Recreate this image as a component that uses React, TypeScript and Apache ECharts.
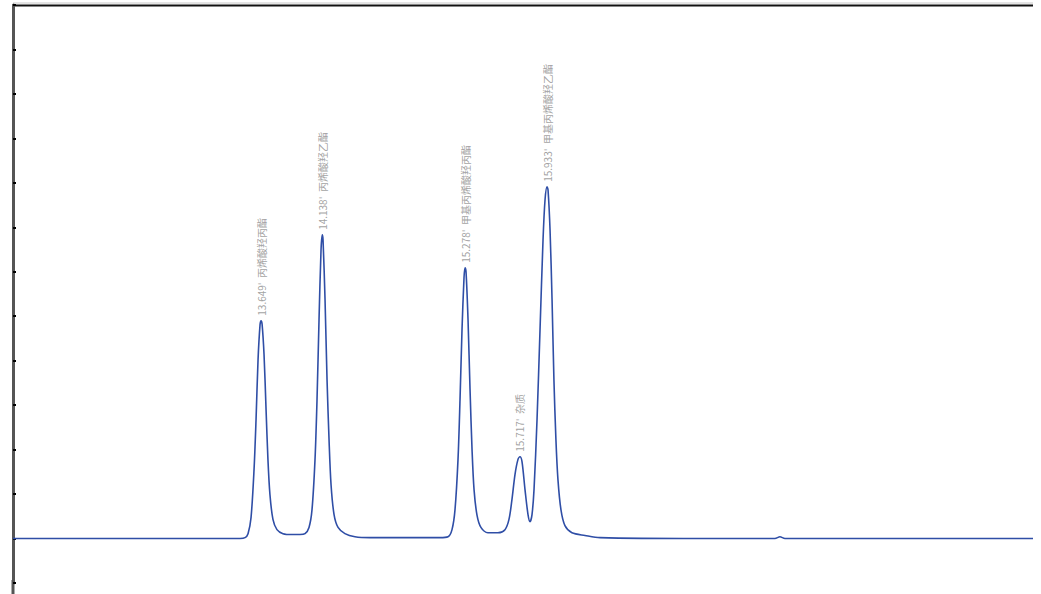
import React, { useEffect, useRef } from "react";
import * as echarts from "echarts";

// Retention time (min) and detector response
const times = [
  11.668, 13.481, 13.521, 13.545, 13.569, 13.593, 13.609, 13.625, 13.641, 13.649, 13.657, 13.673, 13.689, 13.704,
  13.72, 13.744, 13.776, 13.824, 13.896, 13.96, 14.0, 14.032, 14.056, 14.08, 14.096, 14.112, 14.128, 14.138,
  14.144, 14.16, 14.176, 14.192, 14.208, 14.232, 14.264, 14.319, 14.399, 14.519, 15.078, 15.142, 15.174, 15.198,
  15.222, 15.238, 15.254, 15.27, 15.278, 15.286, 15.302, 15.318, 15.334, 15.35, 15.374, 15.405, 15.461, 15.541,
  15.597, 15.629, 15.653, 15.677, 15.701, 15.717, 15.733, 15.757, 15.781, 15.797, 15.813, 15.829, 15.853, 15.877,
  15.901, 15.917, 15.933, 15.941, 15.957, 15.973, 15.988, 16.004, 16.02, 16.044, 16.076, 16.132, 16.236, 16.356,
  17.154, 17.753, 17.793, 17.833, 19.814,
];
const signal = [
  0, 0, 0.02, 0.11, 0.47, 1.55, 2.67, 4.02, 4.81, 4.9, 4.83, 4.13, 2.9, 1.78,
  0.99, 0.43, 0.2, 0.11, 0.09, 0.09, 0.11, 0.25, 0.65, 1.78, 3.12, 4.92, 6.49, 6.83,
  6.72, 5.37, 3.57, 2.22, 1.21, 0.54, 0.25, 0.11, 0.04, 0.02, 0.02, 0.04, 0.2, 0.65,
  1.78, 3.12, 4.7, 5.87, 6.09, 6.0, 4.92, 3.35, 2.0, 1.1, 0.52, 0.25, 0.13, 0.13,
  0.2, 0.43, 0.88, 1.44, 1.78, 1.84, 1.73, 1.1, 0.54, 0.38, 0.54, 1.1, 2.67, 4.7,
  6.72, 7.62, 7.91, 7.84, 6.94, 5.37, 3.57, 2.22, 1.33, 0.65, 0.29, 0.13, 0.07, 0.02,
  0, 0, 0.04, 0, 0,
];

// Peak annotations
const peakTimes = [13.649, 14.138, 15.278, 15.717, 15.933];
const peakHeights = [4.9, 6.83, 6.09, 1.84, 7.91];
const peakNames = [
  "13.649'  丙烯酸羟丙酯",
  "14.138'  丙烯酸羟乙酯",
  "15.278'  甲基丙烯酸羟丙酯",
  "15.717'  杂质",
  "15.933'  甲基丙烯酸羟乙酯",
];

const X_MIN = 11.668;
const X_MAX = 19.814;

export default function App() {
  const ref = useRef<HTMLDivElement>(null);
  useEffect(() => {
    if (!ref.current) return;
    const chart = echarts.init(ref.current, undefined, { renderer: "svg" });
    const lineData = times.map((t, i) => [t, signal[i]]);
    const peakData = peakTimes.map((t, i) => ({ value: [t, peakHeights[i]], name: peakNames[i] }));
    chart.setOption({
      animation: false,
      backgroundColor: "#ffffff",
      grid: { left: 13, right: 8, top: 5, bottom: 11 },
      xAxis: {
        type: "value",
        min: X_MIN,
        max: X_MAX,
        show: false,
      },
      yAxis: {
        type: "value",
        min: -1,
        max: 12,
        interval: 1,
        axisLine: { show: true, lineStyle: { color: "#555555", width: 3 } },
        axisTick: { show: true, inside: true, length: 3, lineStyle: { color: "#000000", width: 2 } },
        axisLabel: { show: false },
        splitLine: { show: false },
      },
      graphic: [
        { type: "line", shape: { x1: 13, y1: 3, x2: 1033, y2: 3 }, style: { stroke: "#c8c8c8", lineWidth: 1 }, silent: true },
        { type: "line", shape: { x1: 12, y1: 5.5, x2: 1033, y2: 5.5 }, style: { stroke: "#111111", lineWidth: 2 }, silent: true },
        { type: "line", shape: { x1: 13, y1: 580, x2: 13, y2: 594 }, style: { stroke: "#555555", lineWidth: 3 }, silent: true },
      ],
      series: [
        {
          type: "line",
          data: lineData,
          showSymbol: false,
          symbol: "none",
          smooth: 0.3,
          lineStyle: { color: "#2f4ea6", width: 1.6 },
          z: 3,
        },
        {
          type: "scatter",
          data: peakData,
          symbolSize: 0,
          label: {
            show: true,
            position: "top",
            distance: 5,
            rotate: 90,
            align: "left",
            verticalAlign: "middle",
            formatter: (p: any) => p.name,
            fontSize: 10,
            color: "#8a8a8a",
            fontFamily: "Noto Sans CJK SC, sans-serif",
          },
          z: 4,
        },
      ],
    });
    return () => chart.dispose();
  }, []);
  return (
    <div
      ref={ref}
      style={{ position: "fixed", left: 0, top: 0, width: 1041, height: 594, background: "#fff" }}
    />
  );
}
